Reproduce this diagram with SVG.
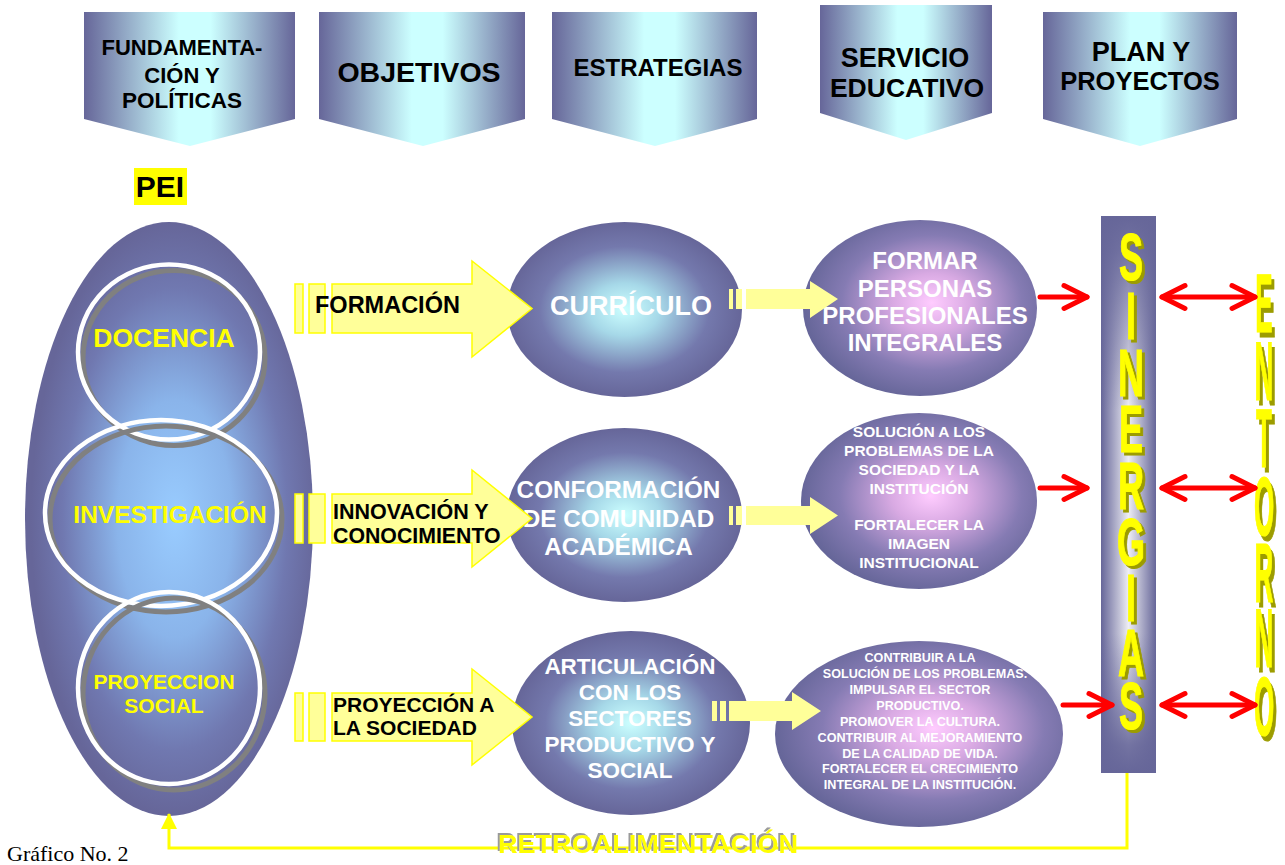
<svg xmlns="http://www.w3.org/2000/svg" width="1285" height="865" viewBox="0 0 1285 865">
<defs>
  <linearGradient id="gHead" x1="0" y1="0" x2="1" y2="0">
    <stop offset="0" stop-color="#666699"/>
    <stop offset="0.45" stop-color="#ccffff"/>
    <stop offset="0.6" stop-color="#ccffff"/>
    <stop offset="1" stop-color="#666699"/>
  </linearGradient>
  <radialGradient id="gPei" cx="0.52" cy="0.5" r="0.5">
    <stop offset="0" stop-color="#99ccff"/>
    <stop offset="0.4" stop-color="#8ab4ea"/>
    <stop offset="0.78" stop-color="#7078b0"/>
    <stop offset="1" stop-color="#666699"/>
  </radialGradient>
  <radialGradient id="gStrat" cx="0.5" cy="0.5" r="0.5">
    <stop offset="0" stop-color="#ccffff"/>
    <stop offset="0.3" stop-color="#a6d8e8"/>
    <stop offset="0.72" stop-color="#7479ad"/>
    <stop offset="1" stop-color="#666699"/>
  </radialGradient>
  <radialGradient id="gRes" cx="0.55" cy="0.47" r="0.55">
    <stop offset="0" stop-color="#ffccff"/>
    <stop offset="0.3" stop-color="#d9aae3"/>
    <stop offset="0.7" stop-color="#857bb3"/>
    <stop offset="1" stop-color="#666699"/>
  </radialGradient>
  <linearGradient id="gSinH" x1="0" y1="0" x2="1" y2="0">
    <stop offset="0" stop-color="#666699"/>
    <stop offset="0.5" stop-color="#eeeef4"/>
    <stop offset="1" stop-color="#666699"/>
  </linearGradient>
  <linearGradient id="gSinV" x1="0" y1="0" x2="0" y2="1">
    <stop offset="0" stop-color="#666699" stop-opacity="1"/>
    <stop offset="0.06" stop-color="#666699" stop-opacity="0.9"/>
    <stop offset="0.35" stop-color="#666699" stop-opacity="0"/>
    <stop offset="0.75" stop-color="#666699" stop-opacity="0"/>
    <stop offset="0.95" stop-color="#666699" stop-opacity="0.9"/>
    <stop offset="1" stop-color="#666699" stop-opacity="1"/>
  </linearGradient>
  <filter id="fOlive" x="-30%" y="-10%" width="160%" height="120%">
    <feOffset in="SourceAlpha" dx="3" dy="1.6" result="o"/>
    <feFlood flood-color="#9c9c00"/>
    <feComposite in2="o" operator="in" result="s"/>
    <feMerge><feMergeNode in="s"/><feMergeNode in="SourceGraphic"/></feMerge>
  </filter>
  <filter id="fGray" x="-5%" y="-20%" width="110%" height="140%">
    <feOffset in="SourceAlpha" dx="-2" dy="-2" result="o"/>
    <feFlood flood-color="#9a9a9a"/>
    <feComposite in2="o" operator="in" result="s"/>
    <feMerge><feMergeNode in="s"/><feMergeNode in="SourceGraphic"/></feMerge>
  </filter>
  <marker id="mRed" viewBox="-3 -3 32 32" refX="25" refY="13" markerWidth="32" markerHeight="32" markerUnits="userSpaceOnUse" orient="auto-start-reverse" overflow="visible">
    <path d="M2,1.5 L25,13 L2,24.5" fill="none" stroke="#ff0000" stroke-width="5" stroke-linecap="round" stroke-linejoin="round"/>
  </marker>
  <marker id="mYel" viewBox="0 0 16 16" refX="15" refY="8" markerWidth="16" markerHeight="16" markerUnits="userSpaceOnUse" orient="auto">
    <path d="M0,0 L16,8 L0,16 Z" fill="#ffff00"/>
  </marker>
</defs>
<style>
  text{font-family:"Liberation Sans",Arial,sans-serif;font-weight:bold;text-anchor:middle}
  .hdr{fill:url(#gHead)}
  .ht{fill:#000000}
  .pei{fill:url(#gPei)}
  .ring{fill:none;stroke:#ffffff;stroke-width:4.5}
  .ringsh{fill:none;stroke:#808080;stroke-width:5}
  .yt{fill:#ffff00}
  .barrow{fill:#ffff99;stroke:#ffff00;stroke-width:1.5}
  .sarrow{fill:#ffff99}
  .bt{fill:#000000;text-anchor:start}
  .strat{fill:url(#gStrat)}
  .res{fill:url(#gRes)}
  .wt{fill:#ffffff}
  .red{fill:none;stroke:#ff0000;stroke-width:5;stroke-linecap:round}
  .feed{fill:none;stroke:#ffff00;stroke-width:3}
  .vword{fill:#ffff00;filter:url(#fOlive);stroke:#ffff00}
</style>

<rect width="1285" height="865" fill="#ffffff"/>

<!-- Header chevrons -->
<g id="h-fundamentacion">
  <path class="hdr" d="M84,12 H295 V119 L190,146 L84,119 Z"/>
  <text class="ht" x="182" y="55" font-size="22">FUNDAMENTA-</text>
  <text class="ht" x="182" y="83" font-size="22">CIÓN Y</text>
  <text class="ht" x="182" y="108" font-size="22.5">POLÍTICAS</text>
</g>
<g id="h-objetivos">
  <path class="hdr" d="M319,12 H525 V119 L423,146 L319,119 Z"/>
  <text class="ht" x="419" y="82" font-size="28.5">OBJETIVOS</text>
</g>
<g id="h-estrategias">
  <path class="hdr" d="M552,12 H757 V119 L655,146 L552,119 Z"/>
  <text class="ht" x="658" y="76" font-size="24">ESTRATEGIAS</text>
</g>
<g id="h-servicio">
  <path class="hdr" d="M820,5 H992 V113 L906,140 L820,113 Z"/>
  <text class="ht" x="905" y="67" font-size="27">SERVICIO</text>
  <text class="ht" x="907" y="97" font-size="26.5">EDUCATIVO</text>
</g>
<g id="h-plan">
  <path class="hdr" d="M1043,12 H1237 V119 L1140,146 L1043,119 Z"/>
  <text class="ht" x="1141" y="61" font-size="27">PLAN Y</text>
  <text class="ht" x="1140" y="90" font-size="25.5">PROYECTOS</text>
</g>

<!-- PEI label -->
<g id="pei-label">
  <rect x="134" y="168" width="53" height="37" fill="#ffff00"/>
  <text x="160" y="197" font-size="30" fill="#000000">PEI</text>
</g>

<!-- PEI big ellipse with three circles -->
<g id="pei">
  <ellipse class="pei" cx="169" cy="519" rx="144" ry="297"/>
  <g id="docencia">
    <ellipse class="ringsh" cx="174" cy="358" rx="91" ry="87.5"/>
    <ellipse class="ring" cx="169" cy="352" rx="91" ry="87.5"/>
    <text class="yt" x="164" y="347" font-size="26.5">DOCENCIA</text>
  </g>
  <g id="investigacion">
    <ellipse class="ringsh" cx="166" cy="519" rx="116" ry="93"/>
    <ellipse class="ring" cx="161" cy="513" rx="116" ry="93"/>
    <text class="yt" x="170" y="523" font-size="24.5">INVESTIGACIÓN</text>
  </g>
  <g id="proyeccion">
    <ellipse class="ringsh" cx="174" cy="694" rx="91" ry="96"/>
    <ellipse class="ring" cx="169" cy="688" rx="91" ry="96"/>
    <text class="yt" x="164" y="689" font-size="21">PROYECCION</text>
    <text class="yt" x="164" y="713" font-size="21">SOCIAL</text>
  </g>
</g>

<!-- Strategy ellipses -->
<g id="curriculo">
  <ellipse class="strat" cx="624.5" cy="309.5" rx="117.5" ry="87.5"/>
  <text class="wt" x="631" y="315" font-size="27">CURRÍCULO</text>
</g>
<g id="conformacion">
  <ellipse class="strat" cx="624.5" cy="515" rx="117.5" ry="87"/>
  <text class="wt" x="618.5" y="498" font-size="24.3">CONFORMACIÓN</text>
  <text class="wt" x="618.5" y="527" font-size="24.3">DE COMUNIDAD</text>
  <text class="wt" x="618.5" y="555" font-size="24.3">ACADÉMICA</text>
</g>
<g id="articulacion">
  <ellipse class="strat" cx="631" cy="723" rx="119" ry="92"/>
  <text class="wt" x="630" y="674" font-size="22.5">ARTICULACIÓN</text>
  <text class="wt" x="630" y="700" font-size="22.5">CON LOS</text>
  <text class="wt" x="630" y="726" font-size="22.5">SECTORES</text>
  <text class="wt" x="630" y="752" font-size="22.5">PRODUCTIVO Y</text>
  <text class="wt" x="630" y="778" font-size="22.5">SOCIAL</text>
</g>

<!-- Block arrows with labels -->
<g id="a-formacion">
  <rect class="barrow" x="295" y="284" width="8" height="49"/>
  <rect class="barrow" x="309" y="284" width="16" height="49"/>
  <path class="barrow" d="M332,284 H472 V261 L532,308.5 L472,357 V333 H332 Z"/>
  <text class="bt" x="315" y="313" font-size="23.5">FORMACIÓN</text>
</g>
<g id="a-innovacion">
  <rect class="barrow" x="295" y="494" width="8" height="49"/>
  <rect class="barrow" x="309" y="494" width="16" height="49"/>
  <path class="barrow" d="M332,494 H472 V470 L532,518.5 L472,567 V543 H332 Z"/>
  <text class="bt" x="333" y="519" font-size="21.5">INNOVACIÓN Y</text>
  <text class="bt" x="333" y="543" font-size="21.3">CONOCIMIENTO</text>
</g>
<g id="a-proyeccion">
  <rect class="barrow" x="295" y="693" width="8" height="48"/>
  <rect class="barrow" x="309" y="693" width="16" height="48"/>
  <path class="barrow" d="M332,693 H472 V669 L532,717 L472,765 V741 H332 Z"/>
  <text class="bt" x="333" y="712" font-size="21">PROYECCIÓN A</text>
  <text class="bt" x="333" y="735" font-size="21">LA SOCIEDAD</text>
</g>

<!-- Result ellipses -->
<g id="formar">
  <ellipse class="res" cx="920" cy="308" rx="117" ry="88"/>
  <text class="wt" x="925" y="269" font-size="24">FORMAR</text>
  <text class="wt" x="925" y="297" font-size="24">PERSONAS</text>
  <text class="wt" x="925" y="324" font-size="24">PROFESIONALES</text>
  <text class="wt" x="925" y="351" font-size="24">INTEGRALES</text>
</g>
<g id="solucion">
  <ellipse class="res" cx="919" cy="501" rx="118" ry="88"/>
  <text class="wt" x="919" y="437" font-size="15.5">SOLUCIÓN A LOS</text>
  <text class="wt" x="919" y="456" font-size="15.5">PROBLEMAS DE LA</text>
  <text class="wt" x="919" y="475" font-size="15.5">SOCIEDAD Y LA</text>
  <text class="wt" x="919" y="494" font-size="15.5">INSTITUCIÓN</text>
  <text class="wt" x="919" y="530" font-size="15.5">FORTALECER LA</text>
  <text class="wt" x="919" y="549" font-size="15.5">IMAGEN</text>
  <text class="wt" x="919" y="568" font-size="15.5">INSTITUCIONAL</text>
</g>
<g id="contribuir">
  <ellipse class="res" cx="919" cy="734" rx="144" ry="93"/>
  <text class="wt" x="920" y="662" font-size="12.6">CONTRIBUIR A LA</text>
  <text class="wt" x="925" y="678" font-size="12.6">SOLUCIÓN DE LOS PROBLEMAS.</text>
  <text class="wt" x="920" y="694" font-size="12.6">IMPULSAR EL SECTOR</text>
  <text class="wt" x="920" y="710" font-size="12.6">PRODUCTIVO.</text>
  <text class="wt" x="920" y="726" font-size="12.6">PROMOVER LA CULTURA.</text>
  <text class="wt" x="920" y="742" font-size="12.6">CONTRIBUIR AL MEJORAMIENTO</text>
  <text class="wt" x="920" y="758" font-size="12.6">DE LA CALIDAD DE VIDA.</text>
  <text class="wt" x="920" y="773" font-size="12.6">FORTALECER EL CRECIMIENTO</text>
  <text class="wt" x="920" y="789" font-size="12.6">INTEGRAL DE LA INSTITUCIÓN.</text>
</g>

<!-- SINERGIAS column -->
<g id="sinergias">
  <rect x="1101" y="216" width="55" height="557" fill="url(#gSinH)"/>
  <rect x="1101" y="216" width="55" height="557" fill="url(#gSinV)"/>
  <text class="vword" transform="translate(1131,0) scale(1,1.85)" font-size="36" font-weight="normal" stroke-width="0.6" x="0 0 0 0 0 0 0 0 0" y="151.35 183.24 214.05 244.32 275.14 305.41 335.68 365.41 394.05">SINERGIAS</text>
</g>

<!-- ENTORNO -->
<g id="entorno">
  <text class="vword" transform="translate(1264,0) scale(1,3.2)" font-size="26" font-weight="normal" stroke-width="0.35" x="0 0 0 0 0 0 0" y="103.75 125 145.94 167.19 188.13 208.44 229.69">ENTORNO</text>
</g>

<!-- Connectors -->
<g id="connectors">
  <g id="small-arrows">
    <rect class="sarrow" x="729" y="289" width="4" height="20"/>
    <rect class="sarrow" x="736" y="289" width="6" height="20"/>
    <path class="sarrow" d="M746,289 H810 V281 L838,299 L810,318 V309 H746 Z"/>
    <rect class="sarrow" x="729" y="506" width="4" height="19"/>
    <rect class="sarrow" x="736" y="506" width="6" height="19"/>
    <path class="sarrow" d="M746,506 H810 V497 L838,515.5 L810,534 V525 H746 Z"/>
    <rect class="sarrow" x="712" y="701" width="5" height="20"/>
    <rect class="sarrow" x="720" y="701" width="6" height="20"/>
    <path class="sarrow" d="M729,701 H792 V692 L821,711 L792,730 V721 H729 Z"/>
  </g>
  <path class="red" d="M1040,297 H1087" marker-end="url(#mRed)"/>
  <path class="red" d="M1040,488 H1087" marker-end="url(#mRed)"/>
  <path class="red" d="M1063,705 H1112" marker-end="url(#mRed)"/>
  <path class="red" d="M1162,297 H1255" marker-start="url(#mRed)" marker-end="url(#mRed)"/>
  <path class="red" d="M1162,488 H1255" marker-start="url(#mRed)" marker-end="url(#mRed)"/>
  <path class="red" d="M1162,705 H1255" marker-start="url(#mRed)" marker-end="url(#mRed)"/>
  <path class="feed" d="M1127,773 V848 H169 V814" marker-end="url(#mYel)"/>
</g>

<!-- Feedback label -->
<g id="retroalimentacion">
  <text x="648" y="853" font-size="25" fill="#ffff00" filter="url(#fGray)" textLength="300" lengthAdjust="spacingAndGlyphs">RETROALIMENTACIÓN</text>
</g>

<text x="7" y="861" font-size="22" fill="#000000" style="font-family:'Liberation Serif','Times New Roman',serif;font-weight:normal;text-anchor:start">Gráfico No. 2</text>
</svg>
